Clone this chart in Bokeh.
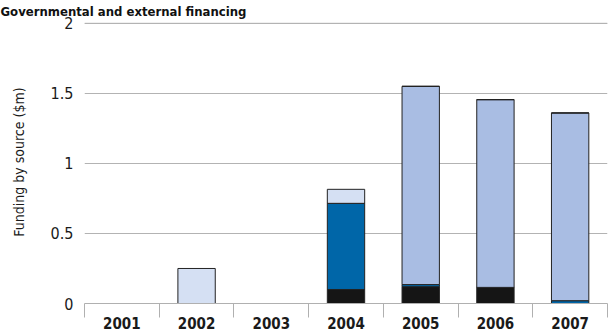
from bokeh.plotting import figure
from bokeh.models import FixedTicker, Range1d, ColumnDataSource, Span
from bokeh.embed import file_html
from bokeh.resources import INLINE

years = ["2001", "2002", "2003", "2004", "2005", "2006", "2007"]
source_black = [0.0, 0.0, 0.0, 0.10, 0.12, 0.115, 0.0]
source_dark = [0.0, 0.0, 0.0, 0.615, 0.015, 0.0, 0.02]
source_light = [0.0, 0.0, 0.0, 0.0, 1.415, 1.34, 1.34]
source_pale = [0.0, 0.25, 0.0, 0.10, 0.0, 0.0, 0.0]
y_ticks = [0, 0.5, 1, 1.5, 2]
y_tick_labels = ["0", "0.5", "1", "1.5", "2"]

stack_names = ["black", "dark", "light", "pale"]
colors = ["#151515", "#0066a8", "#a9bde3", "#d5e0f3"]

FONT = "DejaVu Sans Condensed"
GRID = "#b3b3b3"

xpos = [i + 0.5 for i in range(len(years))]
src = ColumnDataSource(dict(x=xpos, black=source_black, dark=source_dark,
                            light=source_light, pale=source_pale))

p = figure(width=608, height=334, output_backend="svg", toolbar_location=None,
           x_range=Range1d(0, len(years)), y_range=Range1d(0, 2.02),
           min_border_left=84, min_border_right=1, min_border_top=20,
           min_border_bottom=31)
p.outline_line_color = None
p.background_fill_color = "white"
p.border_fill_color = "white"

p.title.text = "Governmental and external financing"
p.title.text_font = FONT
p.title.text_font_style = "bold"
p.title.text_font_size = "13px"
p.title.text_color = "#111111"
p.title.align = "left"
p.title.vertical_align = "top"
p.title.offset = -84
p.title.standoff = 0

# top gridline (at the highest y tick)
p.add_layout(Span(location=y_ticks[-1], dimension="width",
                  line_color=GRID, line_width=1, level="underlay"))

p.vbar_stack(stack_names, x="x", width=0.5, source=src, fill_color=colors,
             line_color="#222222", line_width=1)

# x axis
xt = FixedTicker(ticks=xpos, minor_ticks=list(range(len(years) + 1)))
p.xaxis.ticker = xt
p.xaxis.major_label_overrides = {x: y for x, y in zip(xpos, years)}
p.xaxis.major_tick_out = 0
p.xaxis.major_tick_in = 0
p.xaxis.minor_tick_out = 14
p.xaxis.minor_tick_in = 0
p.xaxis.minor_tick_line_color = "#b0b0b0"
p.xaxis.axis_line_color = "#b0b0b0"
p.xaxis.major_label_standoff = -1
p.xaxis.major_label_text_font = FONT
p.xaxis.major_label_text_font_style = "bold"
p.xaxis.major_label_text_font_size = "15px"
p.xaxis.major_label_text_color = "#1a1a1a"
p.xgrid.grid_line_color = None

# y axis
yt = FixedTicker(ticks=y_ticks)
p.yaxis.ticker = yt
p.ygrid.ticker = yt
p.yaxis.major_label_overrides = {t: l for t, l in zip(y_ticks, y_tick_labels)}
p.yaxis.axis_line_color = None
p.yaxis.major_tick_line_color = None
p.yaxis.minor_tick_line_color = None
p.yaxis.major_label_standoff = 5
p.yaxis.major_label_text_font = FONT
p.yaxis.major_label_text_font_size = "16px"
p.yaxis.major_label_text_color = "#1a1a1a"
p.yaxis.axis_label = "Funding by source ($m)"
p.yaxis.axis_label_text_font = FONT
p.yaxis.axis_label_text_font_style = "normal"
p.yaxis.axis_label_text_font_size = "14px"
p.yaxis.axis_label_text_color = "#1a1a1a"
p.yaxis.axis_label_standoff = 21
p.ygrid.grid_line_color = GRID
p.ygrid.grid_line_width = 1

open("out.html", "w").write(file_html(p, INLINE))
